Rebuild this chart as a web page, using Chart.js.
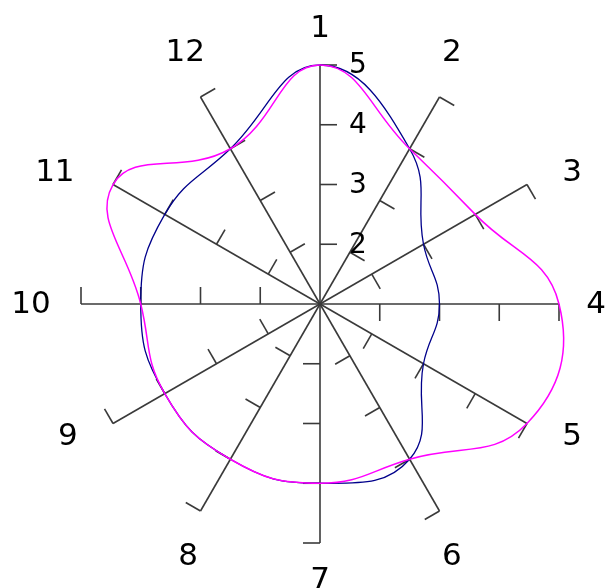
<!DOCTYPE html>
<html><head><meta charset="utf-8">
<script src="https://cdn.jsdelivr.net/npm/chart.js@4"></script>
<style>html,body{margin:0;padding:0;background:#fff;} canvas{display:block;}</style>
</head><body>
<canvas id="c" width="607" height="588"></canvas>
<script>
const categories = ['1','2','3','4','5','6','7','8','9','10','11','12'];
const seriesBlue = [5, 4, 3, 3, 3, 4, 4, 4, 4, 4, 4, 4];
const seriesMagenta = [5, 4, 4, 5, 5, 4, 4, 4, 4, 4, 5, 4];
const tickValues = [2, 3, 4, 5];
const rMin = 1, rMax = 5;

const axisColor = '#3a3a3a';
const FONT = '"DejaVu Sans", sans-serif';

const spiderPlugin = {
  id: 'spider',
  beforeDatasetsDraw(chart) {
    const s = chart.scales.r;
    const ctx = chart.ctx;
    ctx.save();
    ctx.strokeStyle = axisColor;
    ctx.lineWidth = 1.6;
    const n = chart.data.labels.length;
    for (let i = 0; i < n; i++) {
      const a = s.getIndexAngle(i) - Math.PI / 2;
      const px = -Math.sin(a), py = Math.cos(a);
      for (const v of tickValues) {
        const p = s.getPointPositionForValue(i, v);
        ctx.beginPath();
        ctx.moveTo(p.x, p.y);
        ctx.lineTo(p.x + px * 17, p.y + py * 17);
        ctx.stroke();
      }
    }
    ctx.restore();
  },
  afterDraw(chart) {
    const s = chart.scales.r;
    const ctx = chart.ctx;
    ctx.save();
    ctx.fillStyle = '#000';
    // point labels
    ctx.font = '31px ' + FONT;
    ctx.textAlign = 'center';
    ctx.textBaseline = 'middle';
    const wDigit = ctx.measureText('0').width;
    const cx = s.xCenter, cy = s.yCenter;
    chart.data.labels.forEach((lab, i) => {
      const th = s.getIndexAngle(i);
      const w = ctx.measureText(lab).width;
      const th2 = th - (2.4 * Math.PI / 180) * Math.sin(4 * th) / 0.866;
      const d = 276 + 9.8 * Math.abs(Math.sin(2 * th));
      let x = cx + Math.sin(th2) * d;
      const y = cy - Math.cos(th2) * d;
      const sn = Math.sin(th);
      if (sn < 0) {
        const f = Math.min(1, Math.max(0, (Math.abs(sn) - 0.4) / 0.45));
        x -= 0.66 * (w - wDigit) * f;
      }
      ctx.fillText(lab, x, y + 1);
    });
    // tick labels on first axis
    ctx.font = '28px ' + FONT;
    ctx.textAlign = 'left';
    tickValues.forEach(v => {
      const p = s.getPointPositionForValue(0, v);
      ctx.fillText(String(v), p.x + 29, p.y + 1);
    });
    ctx.restore();
  }
};

new Chart(document.getElementById('c'), {
  type: 'radar',
  data: {
    labels: categories,
    datasets: [
      { label: 'B', data: seriesMagenta, borderColor: '#ff00ff', borderWidth: 1.5, fill: false, pointRadius: 0, tension: 0.45, clip: false },
      { label: 'A', data: seriesBlue, borderColor: '#00008b', borderWidth: 1.3, fill: false, pointRadius: 0, tension: 0.45, clip: false }
    ]
  },
  options: {
    responsive: false,
    animation: false,
    layout: { padding: { left: 81, right: 48, top: 65, bottom: 45 } },
    elements: { line: { capBezierPoints: false } },
    plugins: { legend: { display: false }, tooltip: { enabled: false } },
    scales: {
      r: {
        min: rMin, max: rMax,
        ticks: { display: false, stepSize: 1 },
        grid: { display: false },
        pointLabels: { display: false },
        angleLines: { display: true, color: axisColor, lineWidth: 1.6 }
      }
    }
  },
  plugins: [spiderPlugin]
});
</script>
</body></html>
